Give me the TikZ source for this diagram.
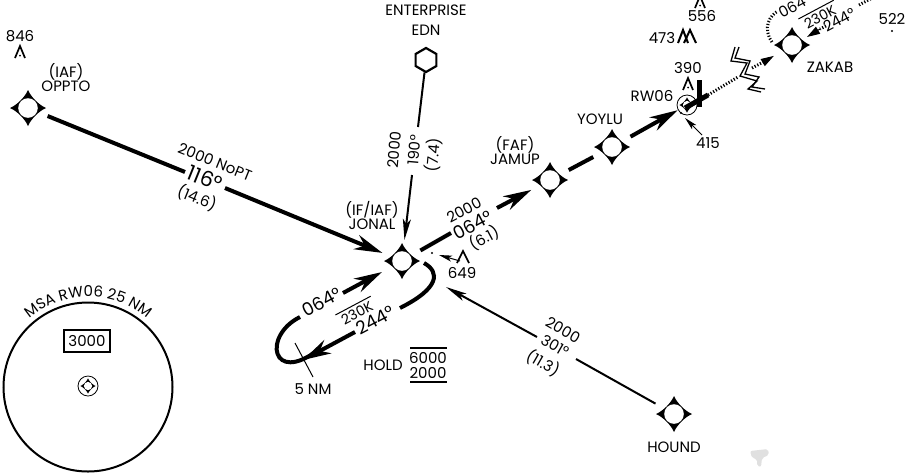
\documentclass[tikz,border=0pt]{standalone}
\usepackage{fontspec}
\setmainfont{Poppins}
\usetikzlibrary{positioning, arrows.meta, shapes.geometric, decorations.text}
\newcommand{\bigfont}{\fontsize{18}{18}\selectfont}
\newcommand{\midfont}{\fontsize{15}{15}\selectfont}

\tikzset{
  txt/.style={inner sep=0pt, font=\midfont, align=center},
  big/.style={inner sep=0pt, font=\bigfont},
  speed/.style={inner sep=3pt, font=\fontsize{14}{14}\selectfont},
  fix/.style={circle, minimum size=42pt, inner sep=0pt},
  leg/.style={line width=4pt},
  thinleg/.style={line width=2pt, >={Stealth[length=21pt,width=8pt,inset=5pt]}},
  note/.style={line width=1pt, >={Stealth[length=13pt,width=6pt,inset=3pt]}},
  dots/.style={line width=3pt, dash pattern=on 1.2pt off 1.8pt},
  fixstar/.pic={
    \fill (0,-18) .. controls (3,-11) and (11,-3) .. (18,0)
      .. controls (11,3) and (3,11) .. (0,18)
      .. controls (-3,11) and (-11,3) .. (-18,0)
      .. controls (-11,-3) and (-3,-11) .. (0,-18);
    \fill[white] (0,0) circle [radius=9.8];
  },
  peak/.pic={
    \draw[line width=1.7pt] (-5,6) -- (0,-6) -- (5,6);
    \fill (0,3.5) circle [radius=1];
  },
  airport/.pic={
    \draw[line width=0.8pt] (0,0) circle [radius=10];
    \pic[scale=0.42] {fixstar};
  },
}

\begin{document}
\begin{tikzpicture}[x=1pt, y=-1pt, >={Stealth[length=28pt,width=15pt,inset=9pt]}]
  \useasboundingbox (0,0) rectangle (912,475);
  \clip (0,0) rectangle (912,475);

  % Define fixes
  \node [fix] (OPPTO) at (28,108) {};
  \node [fix] (JONAL) at (402,261) {};
  \node [fix] (JAMUP) at (550,180) {};
  \node [fix] (YOYLU) at (612,147) {};
  \node [fix] (ZAKAB) at (792,45) {};
  \node [fix] (HOUND) at (674,414) {};
  \foreach \fixname in {OPPTO,JONAL,JAMUP,YOYLU,ZAKAB,HOUND}
    \pic at (\fixname) {fixstar};
  \node [draw, line width=2.2pt, regular polygon, regular polygon sides=6, shape border rotate=30,
    minimum size=24pt, inner sep=0pt] (EDN) at (426,60) {};
  \node [circle, minimum size=21pt, inner sep=0pt] (RW06) at (687,105) {};
  \pic at (RW06) {airport};

  % Define names
  \node [txt] (nameOPPTO) at (66,78) {(IAF)\\[-1pt]OPPTO};
  \node [txt] (nameEDN) at (426,20) {ENTERPRISE\\[5pt]EDN};
  \node [txt] (nameJONAL) at (372,215) {(IF/IAF)\\[-1pt]JONAL};
  \node [txt] (nameJAMUP) at (515,151) {(FAF)\\[-1pt]JAMUP};
  \node [txt] (nameYOYLU) at (600,119) {YOYLU};
  \node [txt] (nameRW06) at (652,96) {RW06};
  \node [txt] (nameZAKAB) at (830,67) {ZAKAB};
  \node [txt] (nameHOUND) at (674,447) {HOUND};

  % Connect fixes
  \coordinate (opptoA) at (185,172);
  \coordinate (opptoB) at (225,188);
  \draw [leg] (OPPTO) -- (opptoA);
  \draw [leg, ->] (opptoB) -- (JONAL);
  \coordinate (ednA) at (418,127);
  \coordinate (ednB) at (412,175);
  \draw [thinleg] (EDN) -- (ednA);
  \draw [thinleg, ->] (ednB) -- (JONAL);
  \coordinate (houndA) at (576,359);
  \coordinate (houndB) at (537,337);
  \coordinate (houndC) at (446,287);
  \draw [thinleg] (HOUND) -- (houndA);
  \draw [thinleg, ->] (houndB) -- (houndC);
  \coordinate (jonalA) at (451,233);
  \coordinate (jonalB) at (497,208);
  \draw [leg] (JONAL) -- (jonalA);
  \draw [leg, ->] (jonalB) -- (JAMUP);
  \draw [leg] (JAMUP) -- (YOYLU);
  \draw [leg, ->] (YOYLU) -- (RW06);

  % Leg labels
  \node [txt, rotate=-22] (alt116) at (215,162) {2000 NoPT};
  \node [big, rotate=-22, font=\fontsize{21}{21}\selectfont] (crs116) at (205,178) {116°};
  \node [txt, rotate=-22] (dist116) at (197,198) {(14.6)};
  \node [txt, rotate=85] (alt190) at (394,150) {2000};
  \node [txt, rotate=85] (crs190) at (414,150) {190°};
  \node [txt, rotate=85] (dist190) at (433,155) {(7.4)};
  \node [txt, rotate=28] (alt064) at (464,210) {2000};
  \node [big, rotate=28] (crs064) at (473,225) {064°};
  \node [txt, rotate=28] (dist064) at (484,238) {(6.1)};
  \node [txt, rotate=-30] (alt301) at (563,330) {2000};
  \node [txt, rotate=-30] (crs301) at (555,346) {301°};
  \node [txt, rotate=-30] (dist301) at (543,363) {(11.3)};

  % Hold at JONAL
  \coordinate (holdA) at (343,293);
  \coordinate (holdB) at (382,272);
  \coordinate (holdC) at (300,317);
  \coordinate (holdD) at (355,332);
  \coordinate (holdE) at (400,308);
  \coordinate (holdF) at (424,263);
  \draw [leg, ->] (holdA) -- (holdB);
  \draw [leg] (holdC) .. controls (262,336) and (272,385) .. (318,350);
  \draw [leg, ->] (holdD) -- (303,360);
  \draw [leg] (holdE) .. controls (440,288) and (440,272) .. (holdF);
  \node [big, rotate=28] (hold064) at (322,302) {064°};
  \node [speed, rotate=28] (hold230) at (357,313) {230K};
  \draw [line width=1pt] (hold230.north west) -- (hold230.north east);
  \node [big, rotate=28] (hold244) at (375,320) {244°};
  \coordinate (tickA) at (295,343);
  \coordinate (tickB) at (313,377);
  \draw [line width=1pt] (tickA) -- (tickB);
  \node [txt] (fiveNM) at (313,389) {5 NM};
  \node [txt] (holdname) at (383,365) {HOLD};
  \node [txt] (holdtop) at (428,358) {6000};
  \node [txt] (holdbot) at (428,373) {2000};
  \coordinate (barA) at (410,348);
  \coordinate (barB) at (447,348);
  \coordinate (barC) at (410,382);
  \coordinate (barD) at (447,382);
  \draw [line width=1.2pt] (barA) -- (barB);
  \draw [line width=1.2pt] (barC) -- (barD);

  % Missed approach to ZAKAB
  \coordinate (barE) at (685,108);
  \coordinate (barF) at (708,95);
  \coordinate (missA) at (738,77);
  \coordinate (missB) at (752,68);
  \coordinate (missC) at (767,60);
  \coordinate (lightA) at (699.5,80);
  \coordinate (lightB) at (699.5,107);
  \draw [line width=5pt] (lightA) -- (lightB);
  \draw [line width=5pt] (barE) -- (barF);
  \draw [dots] (barF) -- (missA);
  \draw [dots] (missB) -- (missC);
  \draw [line width=1pt, -{Stealth[length=13pt,width=8pt,inset=0pt]}] (missC) -- (ZAKAB);
  \draw [line width=1.3pt] (735,47) -- (731,61) -- (747,63) -- (740,76) -- (757,81) -- (748,89) -- (761,92);
  \draw [line width=1.3pt] (739,47) -- (735,58) -- (750,61) -- (745,74) -- (759,77) -- (752,87) -- (765,89);
  \draw [dots] (772,42) .. controls (762,28) and (770,15) .. (778,11);
  \node [txt, rotate=28] (zak064) at (792,7) {064};
  \node [speed, rotate=28] (zak230) at (820,17) {230K};
  \draw [line width=1pt] (zak230.north west) -- (zak230.north east);
  \node [txt, rotate=28] (zak244) at (839,20) {244°};
  \coordinate (zakA) at (826,26);
  \coordinate (zakB) at (820,29);
  \coordinate (zakC) at (807,37);
  \coordinate (zakD) at (859,5);
  \coordinate (zakE) at (872,-2);
  \draw [dots] (zakA) -- (zakB);
  \draw [line width=1pt, -{Stealth[length=13pt,width=8pt,inset=0pt]}] (zakB) -- (zakC);
  \draw [dots] (zakD) -- (zakE);

  % Terrain
  \node [txt] (elev846) at (20,36) {846};
  \pic at (20,52) {peak};
  \node [txt] (elev556) at (702,16) {556};
  \pic at (700,2) {peak};
  \node [txt] (elev473) at (662,38) {473};
  \draw [line width=2pt] (678,43) -- (683,30) -- (688,43);
  \draw [line width=2pt] (684,43) -- (690,30) -- (696,43);
  \node [txt] (elev390) at (688,68) {390};
  \pic at (688,84) {peak};
  \node [txt] (elev415) at (708,143) {415};
  \coordinate (arr415) at (702,135);
  \coordinate (tip415) at (685,118);
  \draw [note, ->] (arr415) -- (tip415);
  \fill (681,113) circle [radius=1.2];
  \node [txt] (elev522) at (892,19) {522};
  \fill (892,31) circle [radius=1.2];
  \node [txt] (elev649) at (462,273) {649};
  \draw [line width=1.7pt] (457,263) -- (463,251) -- (469,263);
  \coordinate (arr649) at (460,261);
  \coordinate (tip649) at (439,255);
  \draw [note, ->] (arr649) -- (tip649);
  \fill (432,253) circle [radius=1.2];

  % Sector altitude circle
  \node [draw, circle, line width=2pt, minimum size=169pt, inner sep=0pt] (MSA) at (88,387) {};
  \path [postaction={decorate}, decoration={text along path, text align=center,
    text={|\midfont|MSA RW06 25 NM}}]
    (19.1,329.1) .. controls (55.1,286.2) and (120.9,286.2) .. (156.9,329.1);
  \node [draw, line width=1.2pt, font=\midfont, minimum width=46pt, minimum height=22pt, inner sep=0pt] (msabox) at (87,341) {3000};
  \pic at (88,386) {airport};

  % Smudge
  \fill [black!12, rounded corners=2pt] (750,451) -- (768,449) -- (769,455) -- (762,458) -- (761,467) -- (757,466) -- (757,459) -- (752,458) -- cycle;
\end{tikzpicture}
\end{document}
